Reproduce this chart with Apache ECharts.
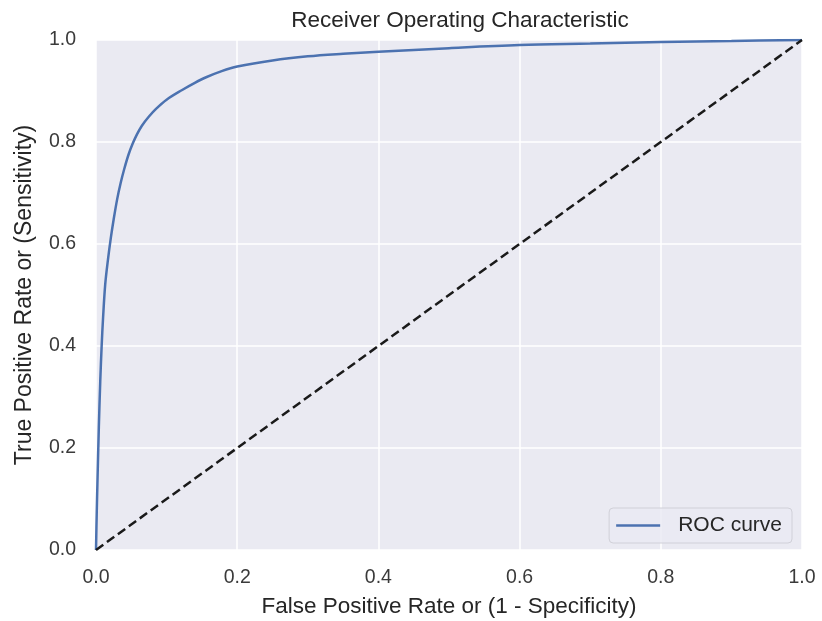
<!DOCTYPE html>
<html>
<head>
<meta charset="utf-8">
<script src="https://cdn.jsdelivr.net/npm/echarts@6/dist/echarts.min.js"></script>
<style>html,body{margin:0;padding:0;background:#fff}#c{width:822px;height:621px}</style>
</head>
<body>
<div id="c"></div>
<script>
var fpr = [0, 0.001, 0.002, 0.004, 0.006, 0.008, 0.010, 0.013, 0.017, 0.021, 0.025, 0.03, 0.035, 0.04, 0.046, 0.052, 0.058, 0.065, 0.075, 0.085, 0.1, 0.122, 0.14, 0.156, 0.178, 0.2, 0.25, 0.3, 0.35, 0.4, 0.5, 0.6, 0.7, 0.8, 0.9, 1.0];
var tpr = [0, 0.07, 0.13, 0.24, 0.33, 0.4, 0.455, 0.52, 0.57, 0.612, 0.648, 0.688, 0.72, 0.747, 0.775, 0.797, 0.815, 0.832, 0.85, 0.865, 0.883, 0.902, 0.916, 0.927, 0.939, 0.948, 0.96, 0.968, 0.973, 0.977, 0.984, 0.99, 0.993, 0.996, 0.998, 1.0];
var diagX = [0, 1];
var diagY = [0, 1];
var xTicks = [0, 0.2, 0.4, 0.6, 0.8, 1.0];
var yTicks = [0, 0.2, 0.4, 0.6, 0.8, 1.0];

var chart = echarts.init(document.getElementById('c'));
var font = 'Liberation Sans, Arial, sans-serif';
chart.setOption({
  animation: false,
  backgroundColor: '#ffffff',
  title: {
    text: 'Receiver Operating Characteristic',
    left: 455, top: 4, textAlign: 'center',
    textStyle: {fontFamily: font, fontSize: 22.5, fontWeight: 'normal', color: '#262626'}
  },
  grid: {left: 96, right: 20, top: 40, bottom: 71, backgroundColor: '#EAEAF2', show: true, borderWidth: 0,
    containLabel: false, outerBoundsMode: 'none'},
  legend: {
    data: [{name: 'ROC curve', icon: 'rect'}],
    right: 30, bottom: 78,
    itemWidth: 44, itemHeight: 2.5, itemGap: 10,
    padding: [7, 10, 7, 7],
    backgroundColor: 'rgba(234,234,242,0.8)',
    borderColor: '#d0d0d8', borderWidth: 1, borderRadius: 4,
    textStyle: {fontFamily: font, fontSize: 21, color: '#262626', padding: [0, 0, 0, 13]}
  },
  xAxis: {
    type: 'value', min: 0, max: 1, interval: 0.2,
    name: 'False Positive Rate or (1 - Specificity)', nameLocation: 'middle', nameGap: 45,
    nameTextStyle: {fontFamily: font, fontSize: 22.5, color: '#262626'},
    axisLine: {show: false}, axisTick: {show: false},
    axisLabel: {fontFamily: font, fontSize: 19.5, color: '#3a3a3a', margin: 18,
      formatter: function (v) { return v.toFixed(1); },
      customValues: xTicks},
    splitLine: {show: true, lineStyle: {color: '#ffffff', width: 1.5}}
  },
  yAxis: {
    type: 'value', min: 0, max: 1, interval: 0.2,
    name: 'True Positive Rate or (Sensitivity)', nameLocation: 'middle', nameGap: 60,
    nameTextStyle: {fontFamily: font, fontSize: 23, color: '#262626'},
    axisLine: {show: false}, axisTick: {show: false},
    axisLabel: {fontFamily: font, fontSize: 19.5, color: '#3a3a3a', margin: 20,
      formatter: function (v) { return v.toFixed(1); },
      customValues: yTicks},
    splitLine: {show: true, lineStyle: {color: '#ffffff', width: 1.5}}
  },
  series: [
    {
      name: 'ROC curve', type: 'line', smooth: 0.35, showSymbol: false, symbol: 'none',
      data: fpr.map(function (x, i) { return [x, tpr[i]]; }),
      lineStyle: {color: '#4C72B0', width: 2.5},
      itemStyle: {color: '#4C72B0'},
      z: 3
    },
    {
      type: 'line', showSymbol: false, symbol: 'none',
      data: diagX.map(function (x, i) { return [x, diagY[i]]; }),
      lineStyle: {color: '#1a1a1a', width: 2.5, type: [9, 4.5]},
      z: 4
    }
  ]
});
</script>
</body>
</html>
